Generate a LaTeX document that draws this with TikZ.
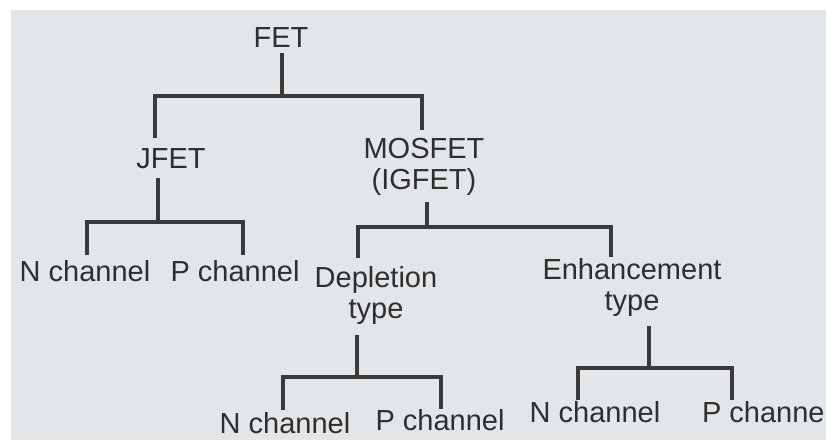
\documentclass[tikz,border=0pt]{standalone}
\usepackage{fontspec}
\setmainfont{Liberation Sans}
\usetikzlibrary{calc}
\definecolor{paper}{HTML}{E3E6E9}
\definecolor{ink}{HTML}{2E2E2E}
\definecolor{rule}{HTML}{3A3A3A}
\begin{document}
\begin{tikzpicture}[x=1pt,y=-1pt,
  lbl/.style={inner sep=0pt,outer sep=0pt,anchor=base,text=ink,
    font=\fontsize{29}{31}\selectfont,align=center},
  tree/.style={draw=rule,line width=3.5pt,line join=miter}]
\useasboundingbox (0,0) rectangle (826,441);
\fill[white] (0,0) rectangle (826,441);
\fill[paper] (11,10) rectangle (826,440);
% labels (base = baseline of the last line)
\node[lbl] (fet) at (281,48) {FET};
\node[lbl] (jfet) at (171,168) {JFET};
\node[lbl] (mos) at (424,189) {MOSFET\\(IGFET)};
\node[lbl] (n1) at (85,281) {N channel};
\node[lbl] (p1) at (235,281) {P channel};
\node[lbl] (dep) at (376,318) {Depletion\\type};
\node[lbl] (enh) at (632,310) {Enhancement\\type};
\node[lbl] (n2) at (285,433) {N channel};
\node[lbl] (p2) at (440,430) {P channel};
\node[lbl] (n3) at (595,422) {N channel};
\node[lbl,anchor=base west] (p3) at (702,422) {P channe};
% junction points
\coordinate (b1) at (282,96);  \coordinate (b1l) at (155,96);  \coordinate (b1r) at (422,96);
\coordinate (b2) at (158,222); \coordinate (b2l) at (87,222);  \coordinate (b2r) at (243,222);
\coordinate (b3) at (427,227); \coordinate (b3l) at (358,227); \coordinate (b3r) at (611,227);
\coordinate (b4) at (357,377); \coordinate (b4l) at (283,377); \coordinate (b4r) at (441,377);
\coordinate (b5) at (649,368); \coordinate (b5l) at (578,368); \coordinate (b5r) at (732,368);
% FET
\draw[tree] ($(b1 |- fet.base)+(0,5)$) -- (b1);
\draw[tree] ($(b1l |- jfet.base)+(0,-30)$) -- (b1l) -- (b1r) -- ($(b1r |- mos.base)+(0,-59)$);
% JFET
\draw[tree] ($(b2 |- jfet.base)+(0,10)$) -- (b2);
\draw[tree] ($(b2l |- n1.base)+(0,-26)$) -- (b2l) -- (b2r) -- ($(b2r |- p1.base)+(0,-26)$);
% MOSFET
\draw[tree] ($(b3 |- mos.south)+(0,7)$) -- (b3);
\draw[tree] ($(b3l |- dep.base)+(0,-60)$) -- (b3l) -- (b3r) -- ($(b3r |- enh.base)+(0,-53)$);
% Depletion
\draw[tree] ($(b4 |- dep.south)+(0,11)$) -- (b4);
\draw[tree] ($(b4l |- n2.base)+(0,-23)$) -- (b4l) -- (b4r) -- ($(b4r |- p2.base)+(0,-21)$);
% Enhancement
\draw[tree] ($(b5 |- enh.south)+(0,10)$) -- (b5);
\draw[tree] ($(b5l |- n3.base)+(0,-22)$) -- (b5l) -- (b5r) -- ($(b5r |- p3.base)+(0,-22)$);
\end{tikzpicture}
\end{document}
